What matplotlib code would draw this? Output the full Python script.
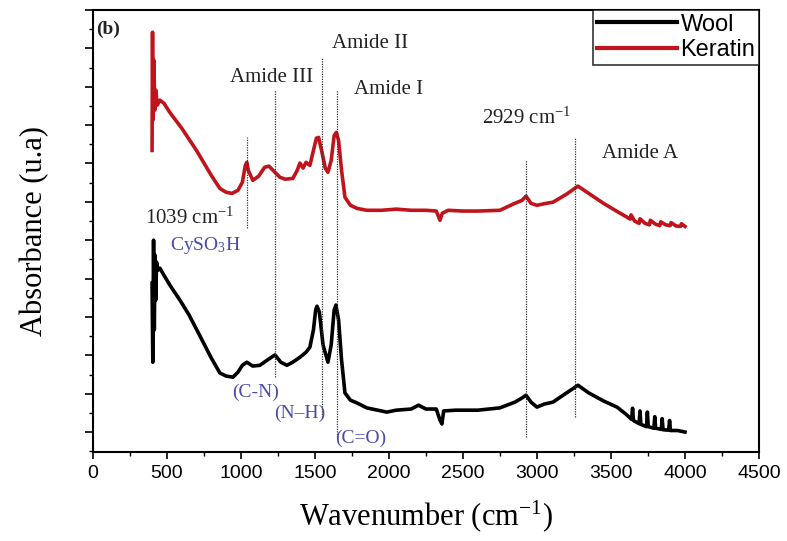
import matplotlib
matplotlib.use("Agg")
import matplotlib.pyplot as plt
from matplotlib.ticker import MultipleLocator, NullFormatter

plt.rcParams['mathtext.fontset'] = 'custom'
plt.rcParams['mathtext.rm'] = 'Liberation Serif'
plt.rcParams['mathtext.it'] = 'Liberation Serif:italic'
plt.rcParams['mathtext.bf'] = 'Liberation Serif:bold'

# ---------------- data ----------------
keratin_wn = [400, 403, 406, 412, 418, 425, 435, 453, 480, 520, 600, 700, 800, 858, 900, 940, 980,
              1010, 1030, 1040, 1050, 1081, 1120, 1160, 1190, 1230, 1264, 1300, 1351, 1380, 1399,
              1420, 1440, 1466, 1490, 1510, 1525, 1545, 1570, 1588, 1610, 1630, 1645, 1660, 1680,
              1703, 1740, 1784, 1850, 1950, 2050, 2150, 2250, 2320, 2345, 2360, 2400, 2500, 2600,
              2750, 2838, 2900, 2926, 2960, 3000, 3060, 3108, 3200, 3277, 3350, 3450, 3550, 3600,
              3630, 3636, 3660, 3690, 3696, 3730, 3760, 3766, 3800, 3830, 3836, 3870, 3900, 3906,
              3940, 3970, 3976, 4000]
keratin_ab = [7.34, 10.42, 8.13, 9.69, 8.39, 8.91, 8.52, 8.65, 8.57, 8.33, 7.92, 7.34, 6.69, 6.35,
              6.25, 6.22, 6.30, 6.51, 6.95, 7.03, 6.82, 6.56, 6.67, 6.90, 6.93, 6.77, 6.64, 6.59,
              6.61, 6.82, 7.01, 6.88, 7.03, 6.95, 7.34, 7.66, 7.68, 7.34, 6.88, 6.77, 7.08, 7.73,
              7.81, 7.60, 6.82, 6.12, 5.91, 5.83, 5.78, 5.78, 5.81, 5.78, 5.78, 5.76, 5.52, 5.70,
              5.78, 5.76, 5.76, 5.78, 5.94, 6.04, 6.15, 5.96, 5.91, 5.96, 5.99, 6.20, 6.41, 6.22,
              5.96, 5.73, 5.62, 5.55, 5.66, 5.50, 5.44, 5.56, 5.44, 5.40, 5.52, 5.42, 5.38, 5.48,
              5.40, 5.38, 5.46, 5.37, 5.36, 5.43, 5.36]

wool_wn = [400, 405, 410, 415, 420, 425, 430, 440, 453, 480, 520, 588, 650, 720, 800, 858, 900,
           946, 980, 1010, 1040, 1080, 1128, 1180, 1230, 1270, 1311, 1350, 1399, 1440, 1466, 1490,
           1505, 1514, 1530, 1555, 1588, 1610, 1630, 1642, 1660, 1680, 1703, 1740, 1784, 1850,
           1986, 2050, 2150, 2200, 2250, 2320, 2345, 2358, 2370, 2450, 2600, 2750, 2851, 2900,
           2926, 2960, 3000, 3050, 3108, 3200, 3277, 3350, 3450, 3541, 3600, 3640, 3646, 3652,
           3690, 3696, 3702, 3740, 3746, 3752, 3790, 3796, 3802, 3840, 3846, 3852, 3890, 3896,
           3902, 3950, 4000]
wool_ab = [3.88, 1.82, 5.00, 2.66, 4.61, 3.44, 4.43, 4.22, 4.27, 4.09, 3.83, 3.44, 3.05, 2.53,
           1.93, 1.54, 1.46, 1.43, 1.56, 1.74, 1.82, 1.72, 1.74, 1.88, 2.01, 1.82, 1.74, 1.82,
           1.95, 2.08, 2.21, 2.66, 3.18, 3.28, 3.13, 2.27, 1.82, 2.27, 3.18, 3.31, 2.92, 1.88,
           1.02, 0.83, 0.76, 0.63, 0.52, 0.57, 0.60, 0.70, 0.60, 0.60, 0.31, 0.21, 0.55, 0.57,
           0.57, 0.63, 0.78, 0.89, 0.96, 0.78, 0.65, 0.73, 0.78, 1.02, 1.22, 1.02, 0.81, 0.65,
           0.47, 0.33, 0.62, 0.30, 0.22, 0.55, 0.20, 0.14, 0.52, 0.14, 0.10, 0.40, 0.10, 0.07,
           0.35, 0.06, 0.05, 0.30, 0.04, 0.04, 0.00]

# vertical marker lines: position, bottom, top
mark_wn = [1039, 1230, 1547, 1649, 2926, 3257]
mark_lo = [5.31, 1.43, 0.39, -0.13, -0.13, 0.39]
mark_hi = [7.68, 8.91, 9.74, 8.91, 7.08, 7.68]

# black annotations
black_labels = ["Amide III", "Amide II", "Amide I", "2929 cm$^{-1}$", "Amide A", "1039 cm$^{-1}$"]
black_x = [1209, 1872, 2000, 2932, 3696, 655]
black_y = [9.24, 10.13, 8.93, 8.18, 7.27, 5.57]

# blue annotations
blue_labels = ["CySO$_3$H", "(C-N)", "(N\u2013H)", "(C=O)"]
blue_x = [757, 1101, 1399, 1811]
blue_y = [4.87, 1.04, 0.49, -0.16]

series_names = ["Wool", "Keratin"]
xticks = [0, 500, 1000, 1500, 2000, 2500, 3000, 3500, 4000, 4500]

# ---------------- figure ----------------
fig = plt.figure(figsize=(7.87, 5.41), dpi=100)
ax = fig.add_axes([0.118, 0.1645, 0.8464, 0.817])

ax.plot(wool_wn, wool_ab, color='black', lw=2.6, label=series_names[0], solid_joinstyle='round')
ax.plot(keratin_wn, keratin_ab, color='#c0141c', lw=2.6, label=series_names[1], solid_joinstyle='round')

ax.vlines(mark_wn, mark_lo, mark_hi, colors='#333333', linestyles=(0, (1, 1)), lw=0.9)

serif = 'Liberation Serif'
for t, x, y in zip(black_labels, black_x, black_y):
    ax.text(x, y, t, ha='center', va='center', fontsize=15, family=serif, color='#222222')
for t, x, y in zip(blue_labels, blue_x, blue_y):
    ax.text(x, y, t, ha='center', va='center', fontsize=14, family=serif, color='#4a4aa8')

ax.text(0.005, 0.975, "(b)", transform=ax.transAxes, ha='left', va='top',
        fontsize=14, family=serif, fontweight='bold', color='#222222')

ax.set_xlim(0, 4500)
ax.set_ylim(-0.52, 11.0)
ax.set_xticks(xticks)
ax.xaxis.set_minor_locator(MultipleLocator(250))
ax.yaxis.set_major_locator(MultipleLocator(1))
ax.yaxis.set_minor_locator(MultipleLocator(0.5))
ax.yaxis.set_major_formatter(NullFormatter())
ax.tick_params(axis='x', which='major', direction='out', length=5, width=1.2,
               labelsize=14, pad=4)
ax.tick_params(axis='x', which='minor', direction='out', length=3, width=1)
ax.tick_params(axis='y', which='major', direction='out', length=6, width=1.2)
ax.tick_params(axis='y', which='minor', direction='out', length=3, width=1)
for lab in ax.get_xticklabels():
    lab.set_family('Liberation Sans')
for s in ax.spines.values():
    s.set_linewidth(1.5)

ax.set_xlabel("Wavenumber (cm$^{-1}$)", fontsize=22, family=serif, labelpad=12)
ax.set_ylabel("Absorbance (u.a)", fontsize=22, family=serif, labelpad=22)

leg = ax.legend(loc='upper right', frameon=True, fancybox=False, edgecolor='black',
                prop={'family': 'Liberation Sans', 'size': 17}, handlelength=3.4,
                handletextpad=0.15, borderpad=0.15, borderaxespad=0.0, labelspacing=0.15)
leg.get_frame().set_linewidth(1.2)
for l in leg.get_lines():
    l.set_linewidth(3)

fig.savefig("out.png", dpi=100)
